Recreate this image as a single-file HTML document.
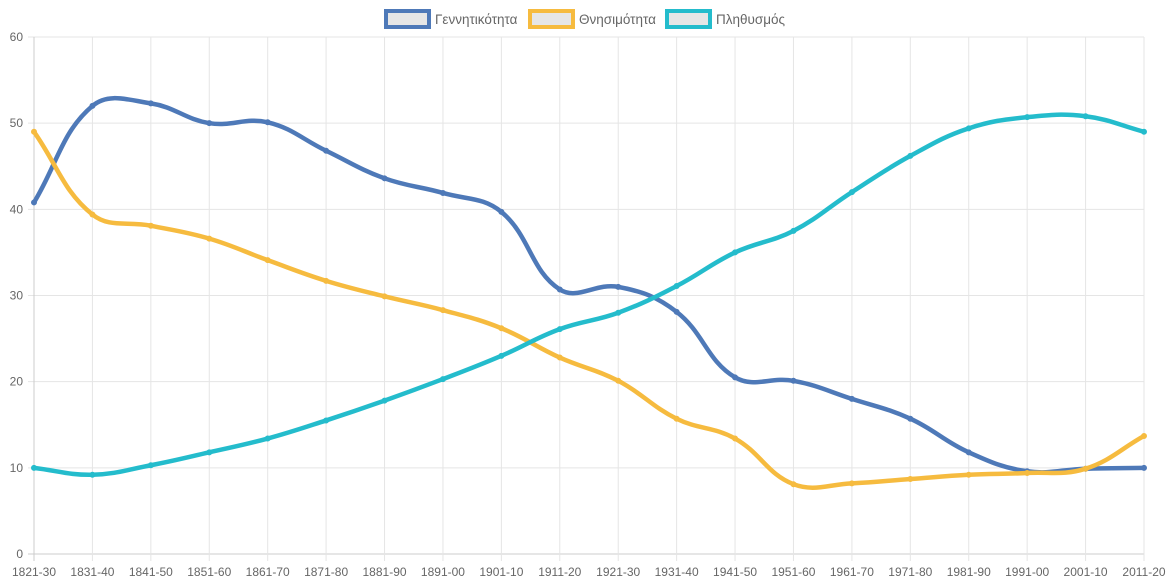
<!DOCTYPE html>
<html><head><meta charset="utf-8"><style>
body{margin:0;background:#fff;}
svg{display:block;font-family:"Liberation Sans",sans-serif;}
</style></head><body>
<svg id="c" width="1175" height="581" xmlns="http://www.w3.org/2000/svg">
<g id="grid"></g>
<g font-size="13.5" fill="#666">
<rect x="386" y="11" width="43" height="16" fill="#e6e6e6" stroke="#4e79b8" stroke-width="4"/>
<text x="435" y="24">Γεννητικότητα</text>
<rect x="530" y="11" width="43" height="16" fill="#e6e6e6" stroke="#f6bb3f" stroke-width="4"/>
<text x="579" y="24">Θνησιμότητα</text>
<rect x="667" y="11" width="43" height="16" fill="#e6e6e6" stroke="#24bccc" stroke-width="4"/>
<text x="716" y="24">Πληθυσμός</text>
</g>
<g id="lines"></g>
</svg>
<script>
const X0=34,X1=1144,Y0=554,Y1=37;
const labels=["1821-30","1831-40","1841-50","1851-60","1861-70","1871-80","1881-90","1891-00","1901-10","1911-20","1921-30","1931-40","1941-50","1951-60","1961-70","1971-80","1981-90","1991-00","2001-10","2011-20"];
const step=(X1-X0)/19, ys=(Y0-Y1)/60;
const NS="http://www.w3.org/2000/svg";
const g=document.getElementById('grid'), L=document.getElementById('lines');
function el(p,t,a,txt){const e=document.createElementNS(NS,t);for(const k in a)e.setAttribute(k,a[k]);if(txt!==undefined)e.textContent=txt;p.appendChild(e);return e;}
for(let i=0;i<=6;i++){const y=Y0-i*10*ys;el(g,'line',{x1:X0-6,x2:X1,y1:y,y2:y,stroke:i==0?'#ccc':'#e5e5e5','stroke-width':1});
el(g,'text',{x:X0-11,y:y+4,'text-anchor':'end','font-size':12,fill:'#666'},String(i*10));}
for(let i=0;i<20;i++){const x=X0+i*step;el(g,'line',{x1:x,x2:x,y1:Y1,y2:Y0+7,stroke:i==0?'#ccc':'#e5e5e5','stroke-width':1});
el(g,'text',{x:x,y:576,'text-anchor':'middle','font-size':12,fill:'#666'},labels[i]);}
const data=[
["#4e79b8",[40.8,52,52.3,50,50.1,46.8,43.6,41.9,39.7,30.7,31,28.1,20.5,20.1,18,15.7,11.8,9.6,9.9,10]],
["#f6bb3f",[49,39.4,38.1,36.6,34.1,31.7,29.9,28.3,26.2,22.8,20.1,15.7,13.4,8.1,8.2,8.7,9.2,9.4,9.9,13.7]],
["#24bccc",[10,9.2,10.3,11.8,13.4,15.5,17.8,20.3,23,26.1,28,31.1,35,37.5,42,46.2,49.4,50.7,50.8,49]]];
const t=0.4;
for(const [col,v] of data){
 const p=v.map((d,i)=>({x:X0+i*step,y:Y0-d*ys}));
 const cp=p.map((c,i)=>{const a=p[Math.max(i-1,0)],b=p[Math.min(i+1,p.length-1)];
  const d01=Math.hypot(c.x-a.x,c.y-a.y),d12=Math.hypot(b.x-c.x,b.y-c.y);
  let s01=d01/(d01+d12),s12=d12/(d01+d12);if(isNaN(s01))s01=0;if(isNaN(s12))s12=0;
  return {px:c.x-t*s01*(b.x-a.x),py:c.y-t*s01*(b.y-a.y),nx:c.x+t*s12*(b.x-a.x),ny:c.y+t*s12*(b.y-a.y)};});
 let d=`M${p[0].x},${p[0].y}`;
 for(let i=1;i<p.length;i++)d+=` C${cp[i-1].nx},${cp[i-1].ny} ${cp[i].px},${cp[i].py} ${p[i].x},${p[i].y}`;
 el(L,'path',{d:d,fill:'none',stroke:col,'stroke-width':4.5,'stroke-linejoin':'round'});
 p.forEach(q=>el(L,'circle',{cx:q.x,cy:q.y,r:2.5,fill:col,stroke:col,'stroke-width':1}));
}
</script>
</body></html>
